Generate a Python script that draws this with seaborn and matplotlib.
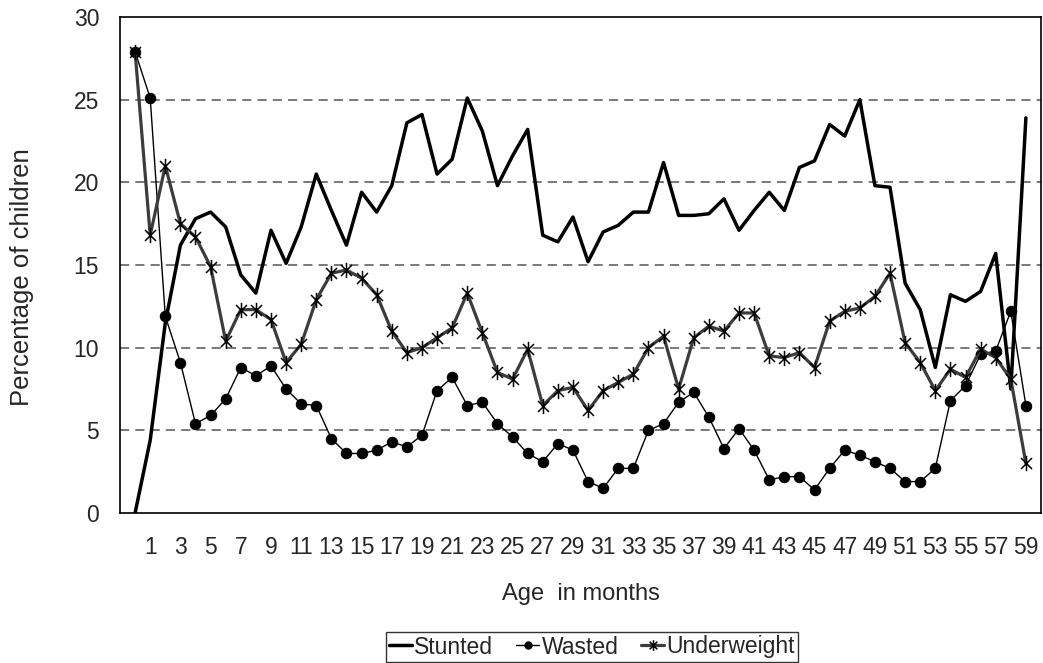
import numpy as np
import pandas as pd
import matplotlib
matplotlib.use("Agg")
import matplotlib.pyplot as plt
from matplotlib.path import Path
import seaborn as sns

# age in months, 0..59
ages = list(range(60))

stunted = [0.0, 4.4, 11.5, 16.2, 17.8, 18.2, 17.3, 14.4, 13.3, 17.1,
           15.1, 17.3, 20.5, 18.3, 16.2, 19.4, 18.2, 19.8, 23.6, 24.1,
           20.5, 21.4, 25.1, 23.1, 19.8, 21.6, 23.2, 16.8, 16.4, 17.9,
           15.2, 17.0, 17.4, 18.2, 18.2, 21.2, 18.0, 18.0, 18.1, 19.0,
           17.1, 18.3, 19.4, 18.3, 20.9, 21.3, 23.5, 22.8, 25.0, 19.8,
           19.7, 13.9, 12.3, 8.8, 13.2, 12.8, 13.4, 15.7, 7.5, 23.9]

wasted = [27.9, 25.1, 11.9, 9.1, 5.4, 5.9, 6.9, 8.8, 8.3, 8.9,
          7.5, 6.6, 6.5, 4.5, 3.6, 3.6, 3.8, 4.3, 4.0, 4.7,
          7.4, 8.2, 6.5, 6.7, 5.4, 4.6, 3.6, 3.1, 4.2, 3.8,
          1.9, 1.5, 2.7, 2.7, 5.0, 5.4, 6.7, 7.3, 5.8, 3.9,
          5.1, 3.8, 2.0, 2.2, 2.2, 1.4, 2.7, 3.8, 3.5, 3.1,
          2.7, 1.9, 1.9, 2.7, 6.8, 7.7, 9.6, 9.8, 12.2, 6.5]

underweight = [27.9, 16.8, 21.0, 17.5, 16.7, 14.9, 10.4, 12.3, 12.3, 11.7,
               9.1, 10.2, 12.9, 14.5, 14.7, 14.2, 13.2, 11.0, 9.7, 10.0,
               10.6, 11.2, 13.3, 10.9, 8.5, 8.1, 9.9, 6.5, 7.4, 7.6,
               6.2, 7.4, 7.9, 8.4, 10.0, 10.7, 7.5, 10.6, 11.3, 11.0,
               12.1, 12.1, 9.5, 9.4, 9.7, 8.8, 11.6, 12.2, 12.4, 13.1,
               14.5, 10.3, 9.1, 7.4, 8.7, 8.2, 9.9, 9.4, 8.1, 3.0]

df = pd.DataFrame({"age": ages, "Stunted": stunted,
                   "Wasted": wasted, "Underweight": underweight})

sns.set_style("white")
plt.rcParams['font.family'] = ['Liberation Sans', 'DejaVu Sans']
FS = 16.5

fig = plt.figure(figsize=(10.43, 6.63), dpi=100)
ax = fig.add_axes([120 / 1043, 1 - 513 / 663, 921 / 1043, 496 / 663])

# excel style star: vertical bar plus an X
d = 0.72
star = Path([(0, -1), (0, 1), (-d, -d), (d, d), (-d, d), (d, -d)],
            [Path.MOVETO, Path.LINETO, Path.MOVETO, Path.LINETO,
             Path.MOVETO, Path.LINETO])

sns.lineplot(data=df, x="age", y="Stunted", ax=ax, color="black",
             linewidth=2.5, label="Stunted", zorder=4)
sns.lineplot(data=df, x="age", y="Wasted", ax=ax, color="black",
             linewidth=1.0, marker="o", markersize=7.5,
             markeredgecolor="black", label="Wasted", zorder=3)
sns.lineplot(data=df, x="age", y="Underweight", ax=ax, color="#3c3c3c",
             linewidth=2.3, marker=star, markersize=11,
             markeredgecolor="black", markeredgewidth=1.1,
             label="Underweight", zorder=5)

ax.set_xlim(-1, 60)
ax.set_ylim(0, 30)
ax.set_yticks(range(0, 31, 5))
ax.set_yticklabels([str(v) for v in range(0, 31, 5)], fontsize=FS)
xt = [-1] + list(range(1, 60, 2))
ax.set_xticks(xt)
ax.set_xticklabels([""] + [str(v) for v in range(1, 60, 2)], fontsize=FS)
ax.tick_params(axis="x", direction="out", length=9.5, width=1.0,
               color="black", pad=7)
ax.tick_params(axis="y", length=0, pad=15)

for v in range(5, 30, 5):
    ax.axhline(v, color="#555555", linewidth=1.1, linestyle=(0, (6, 4)),
               zorder=1)

for s in ax.spines.values():
    s.set_color("black")
    s.set_linewidth(1.2)

ax.set_xlabel("Age  in months", fontsize=17)
ax.xaxis.set_label_coords(0.5, -0.142)
ax.set_ylabel("Percentage of children", fontsize=18.5)
ax.yaxis.set_label_coords(-0.093, 0.476)

ax.get_legend().remove()
handles, labels = ax.get_legend_handles_labels()
leg = fig.legend(handles, labels, loc="center", ncol=3,
                 bbox_to_anchor=(592 / 1043, 1 - 647 / 663),
                 fontsize=FS, frameon=True, fancybox=False,
                 handlelength=1.0, handletextpad=0.1, columnspacing=1.0,
                 borderpad=0.15, borderaxespad=0, markerscale=0.7)
leg.get_frame().set_edgecolor("black")
leg.get_frame().set_linewidth(1.0)

fig.savefig("out.png", dpi=100)
